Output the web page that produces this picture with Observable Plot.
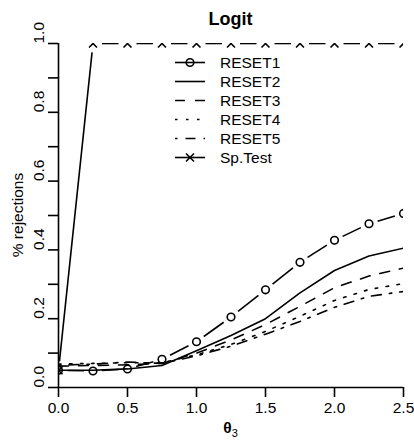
<!DOCTYPE html>
<html><head><meta charset="utf-8">
<script src="https://cdn.jsdelivr.net/npm/d3@7"></script>
<script src="https://cdn.jsdelivr.net/npm/@observablehq/plot@0.6"></script>
<style>body{margin:0;background:#fff} svg{display:block}</style>
</head><body><div id="chart"></div>
<script>
// ---- data ----
const theta  = [0, 0.25, 0.5, 0.75, 1.0, 1.25, 1.5, 1.75, 2.0, 2.25, 2.5];
const reset1 = [0.050, 0.048, 0.054, 0.082, 0.133, 0.205, 0.284, 0.364, 0.428, 0.476, 0.506];
const reset2 = [0.050, 0.050, 0.054, 0.064, 0.107, 0.151, 0.200, 0.275, 0.340, 0.382, 0.405];
const reset3 = [0.062, 0.064, 0.066, 0.070, 0.100, 0.138, 0.183, 0.236, 0.290, 0.324, 0.347];
const reset4 = [0.068, 0.070, 0.072, 0.072, 0.095, 0.125, 0.163, 0.207, 0.253, 0.285, 0.302];
const reset5 = [0.065, 0.068, 0.074, 0.070, 0.092, 0.120, 0.155, 0.192, 0.233, 0.265, 0.279];
const spTest = [0.050, 1, 1, 1, 1, 1, 1, 1, 1, 1, 1];
const seriesNames = ["RESET1", "RESET2", "RESET3", "RESET4", "RESET5", "Sp.Test"];
const yTicks  = [0, 0.1, 0.2, 0.3, 0.4, 0.5, 0.6, 0.7, 0.8, 0.9, 1.0];
const yLabels = [0, 0.2, 0.4, 0.6, 0.8, 1.0];
const xTicks  = [0, 0.5, 1.0, 1.5, 2.0, 2.5];

// ---- layout ----
const W = 414, H = 440, ML = 58, MR = 11, MT = 43, MB = 53;
const FONT = "'Liberation Sans', Arial, Helvetica, sans-serif";
const LW = 1.6;
const dashes = {RESET3: "10,10", RESET4: "2.5,8.5", RESET5: "2.5,8,10,8"};
const kx = (W - ML - MR) / 2.5, ky = (H - MT - MB) / 1;
const GAP = 9; // R type="b" gap around points (px)

function gapSegments(ys) {
  const segs = [];
  for (let i = 0; i < ys.length - 1; i++) {
    const ddx = theta[i+1] - theta[i], ddy = ys[i+1] - ys[i];
    const L = Math.hypot(ddx * kx, ddy * ky);
    if (L <= 2 * GAP) continue;
    const f = GAP / L;
    segs.push({x1: theta[i] + ddx * f, y1: ys[i] + ddy * f,
               x2: theta[i+1] - ddx * f, y2: ys[i+1] - ddy * f});
  }
  return segs;
}
const pts = (ys) => theta.map((t, i) => ({x: t, y: ys[i]}));

const svg = Plot.plot({
  width: W, height: H,
  marginLeft: ML, marginRight: MR, marginTop: MT, marginBottom: MB,
  style: {fontFamily: FONT, fontSize: "15.5px", background: "#fff", color: "#000"},
  x: {domain: [0, 2.5]},
  y: {domain: [0, 1]},
  marks: [
    Plot.line(pts(reset2), {x: "x", y: "y", stroke: "#000", strokeWidth: LW, clip: "frame"}),
    Plot.line(pts(reset3), {x: "x", y: "y", stroke: "#000", strokeWidth: LW, strokeDasharray: dashes.RESET3, clip: "frame"}),
    Plot.line(pts(reset4), {x: "x", y: "y", stroke: "#000", strokeWidth: LW, strokeDasharray: dashes.RESET4, clip: "frame"}),
    Plot.line(pts(reset5), {x: "x", y: "y", stroke: "#000", strokeWidth: LW, strokeDasharray: dashes.RESET5, clip: "frame"}),
    Plot.link(gapSegments(reset1), {x1: "x1", y1: "y1", x2: "x2", y2: "y2", stroke: "#000", strokeWidth: LW, clip: "frame"}),
    Plot.dot(pts(reset1), {x: "x", y: "y", r: 3.8, stroke: "#000", strokeWidth: LW, fill: "none", clip: "frame"}),
    Plot.link(gapSegments(spTest), {x1: "x1", y1: "y1", x2: "x2", y2: "y2", stroke: "#000", strokeWidth: LW, clip: "frame"}),
    Plot.dot(pts(spTest), {x: "x", y: "y", r: 3.7, symbol: "times", stroke: "#000", strokeWidth: LW, clip: "frame"}),
    Plot.ruleX([0], {stroke: "#000", strokeWidth: LW}),
    Plot.ruleY([0], {stroke: "#000", strokeWidth: LW}),
    Plot.axisY({ticks: yTicks, tickSize: 10, tickFormat: () => "", label: null, strokeWidth: LW}),
    Plot.text(yLabels, {y: d => d, text: d => d3.format(".1f")(d), frameAnchor: "left", dx: -19, rotate: -90, fontSize: 15.5}),
    Plot.axisX({ticks: xTicks, tickSize: 10, tickPadding: 4, tickFormat: d3.format(".1f"), label: null, fontSize: 15.5, strokeWidth: LW})
  ]
});

const g = d3.select(svg);
// title
g.append("text").attr("x", (ML + W - MR) / 2).attr("y", 25).attr("text-anchor", "middle")
  .attr("font-weight", "bold").attr("font-size", 18).attr("font-family", FONT).text("Logit");
// y label
g.append("text").attr("transform", `translate(23,${(MT + H - MB) / 2}) rotate(-90)`)
  .attr("text-anchor", "middle").attr("font-size", 15.5).attr("font-family", FONT).text("% rejections");
// x label
const xl = g.append("text").attr("x", (ML + W - MR) / 2).attr("y", 433).attr("text-anchor", "middle")
  .attr("font-size", 15.5).attr("font-family", FONT);
xl.append("tspan").attr("font-weight", "bold").text("θ");
xl.append("tspan").attr("font-size", 11).attr("dy", 4).text("3");

// legend
const lg = g.append("g").attr("font-family", FONT).attr("font-size", 15.5).attr("text-anchor", "start");
seriesNames.forEach((name, i) => {
  const y = 62.5 + i * 19;
  lg.append("line").attr("x1", 175).attr("x2", 205).attr("y1", y).attr("y2", y)
    .attr("stroke", "#000").attr("stroke-width", LW)
    .attr("stroke-dasharray", dashes[name] || null);
  if (name === "RESET1")
    lg.append("circle").attr("cx", 190).attr("cy", y).attr("r", 3.8).attr("fill", "none")
      .attr("stroke", "#000").attr("stroke-width", LW);
  if (name === "Sp.Test")
    lg.append("path").attr("d", d3.symbol(d3.symbolTimes, 3.7 * 3.7 * Math.PI)())
      .attr("transform", `translate(190,${y})`).attr("fill", "none")
      .attr("stroke", "#000").attr("stroke-width", LW);
  lg.append("text").attr("x", 220).attr("y", y).attr("dy", "0.36em").attr("text-anchor", "start").text(name);
});

document.getElementById("chart").appendChild(svg);
</script>
</body></html>
